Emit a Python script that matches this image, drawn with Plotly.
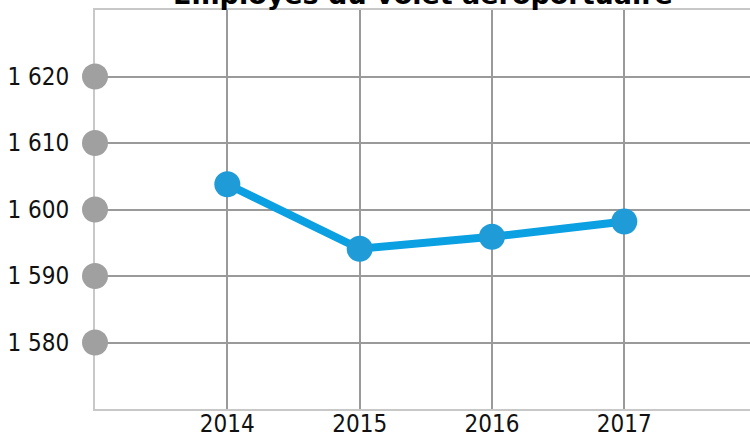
import plotly.graph_objects as go

years = [2014, 2015, 2016, 2017]
employes = [1603.8, 1594.1, 1595.9, 1598.2]
y_ticks = [1580, 1590, 1600, 1610, 1620]
title_text = "Employés du volet aéroportuaire"

TICK_FONT = dict(family="DejaVu Sans Condensed, DejaVu Sans", size=24, color="#111111")

fig = go.Figure()

# grey dots on the y axis at each tick
fig.add_trace(go.Scatter(
    x=[2013] * len(y_ticks), y=y_ticks, mode="markers",
    marker=dict(size=26, color="#a0a0a0"), cliponaxis=False,
    hoverinfo="skip", showlegend=False,
))

fig.add_trace(go.Scatter(
    x=years, y=employes, mode="lines+markers",
    line=dict(color="#0aa0e2", width=8),
    marker=dict(size=26, color="#1f9bd8"),
    cliponaxis=False, showlegend=False,
))

fig.update_layout(
    width=750, height=436,
    margin=dict(l=95, r=0, t=10, b=27, autoexpand=False),
    paper_bgcolor="white", plot_bgcolor="white",
    separators=", ",
    showlegend=False,
    annotations=[dict(
        text="<b>" + title_text + "</b>", xref="paper", yref="paper",
        x=0.5, y=1, xanchor="center", yanchor="middle", yshift=16,
        showarrow=False,
        font=dict(family="DejaVu Sans", size=27, color="#000000"),
    )],
)

fig.update_xaxes(
    range=[2013, 2017.95], tickvals=years, ticktext=[str(y) for y in years],
    showgrid=True, gridcolor="#9a9a9a", gridwidth=2,
    showline=True, linecolor="#c8c8c8", linewidth=2, mirror=True,
    ticks="", tickfont=TICK_FONT, ticklabelstandoff=-8, zeroline=False,
    layer="below traces", automargin=False,
)
fig.update_yaxes(
    range=[1570, 1630], tickvals=y_ticks, tickformat=",d",
    showgrid=True, gridcolor="#9a9a9a", gridwidth=2,
    showline=True, linecolor="#c8c8c8", linewidth=2,
    ticks="", tickfont=TICK_FONT, ticklabelstandoff=19, zeroline=False,
    layer="below traces", automargin=False,
)

fig.write_html(
    "out.html",
    config={"displayModeBar": False},
    post_script="document.body.style.margin='0';document.body.style.overflow='hidden';",
)
